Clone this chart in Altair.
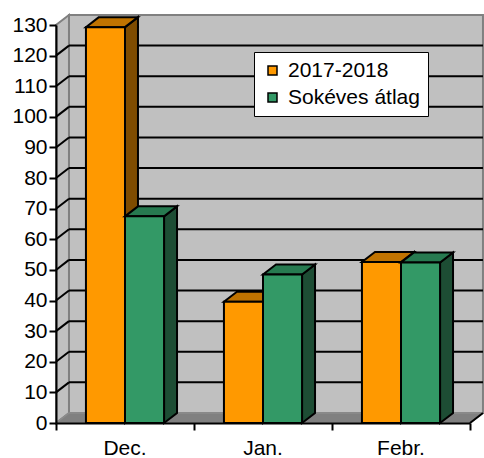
import altair as alt
import pandas as pd

# Monthly values (mm) per series
categories = ["Dec.", "Jan.", "Febr."]
season = [129.3, 39.6, 52.6]      # 2017-2018
longterm = [67.5, 48.5, 52.4]     # Sokéves átlag
series_names = ["2017-2018", "Sokéves átlag"]
y_ticks = list(range(0, 131, 10))

front_colors = ["#FF9900", "#339966"]
top_colors = ["#C07300", "#277A50"]
side_colors = ["#7F4C00", "#1D4D34"]

FONT = "Liberation Sans"
FS = 21
DX = 0.094    # depth of the 3D box along x (category units)
DY = 3.27     # depth of the 3D box along y (value units)
BAR_W = 0.283
N = len(categories)
YMAX = 130

xs = alt.Scale(domain=[0, N], nice=False, zero=False)
ys = alt.Scale(domain=[0, YMAX], nice=False, zero=False)
x_axis = alt.Axis(values=list(range(N + 1)), labels=False, title=None, grid=False,
                  tickSize=7, tickWidth=2, tickColor="black", domainColor="black",
                  domainWidth=2, zindex=1)
y_axis = alt.Axis(values=y_ticks, title=None, grid=False, tickSize=7, tickWidth=2,
                  tickColor="black", domainColor="black", domainWidth=2,
                  labelFont=FONT, labelFontSize=FS, labelColor="black",
                  labelPadding=2, zindex=1)


def X(field):
    return alt.X(f"{field}:Q", scale=xs, axis=x_axis, stack=None)


def Y(field):
    return alt.Y(f"{field}:Q", scale=ys, axis=y_axis, stack=None)


# bar geometry
rows, sides, tops = [], [], []
for i, cat in enumerate(categories):
    for k, vals in enumerate([season, longterm]):
        x0 = i + 0.5 - BAR_W + k * BAR_W
        x1 = x0 + BAR_W
        v = vals[i]
        bar = f"{cat}|{k}"
        rows.append(dict(cat=cat, series=series_names[k], k=k, x0=x0, x1=x1, v=v, base=0))
        sides.append(dict(bar=bar, k=k, sx=x1, lo=0, hi=v))
        sides.append(dict(bar=bar, k=k, sx=x1 + DX, lo=DY, hi=v + DY))
        tops.append(dict(bar=bar, k=k, ty=v, tx0=x0, tx1=x1))
        tops.append(dict(bar=bar, k=k, ty=v + DY, tx0=x0 + DX, tx1=x1 + DX))
bars = pd.DataFrame(rows)
side_df = pd.DataFrame(sides)
top_df = pd.DataFrame(tops)

# frame of the 3D box
wall_df = pd.DataFrame(dict(a=[DX], b=[N + DX], c=[DY], d=[YMAX + DY]))
left_df = pd.DataFrame(dict(wx=[0, DX], lo=[0, DY], hi=[YMAX, YMAX + DY]))
floor_df = pd.DataFrame(dict(fy=[0, DY], fx0=[0, DX], fx1=[N, N + DX]))
grid_df = pd.DataFrame(dict(t=[t + DY for t in y_ticks[1:-1]], a=DX, b=N + DX))
diag_df = pd.DataFrame(dict(t=y_ticks[1:-1], t2=[t + DY for t in y_ticks[1:-1]], a=0.0, b=DX))
edge_df = pd.DataFrame(dict(a=[N], b=[N + DX], c=[0], d=[DY]))
cat_df = pd.DataFrame(dict(cat=categories, cx=[i + 0.5 for i in range(N)], base=0))

back_wall = alt.Chart(wall_df).mark_rect(fill="#C0C0C0", stroke="#808080", strokeWidth=2).encode(
    x=X("a"), x2="b", y=Y("c"), y2="d")
left_wall = alt.Chart(left_df).mark_area(fill="#C0C0C0", stroke="#808080", strokeWidth=2,
                                         orient="vertical", fillOpacity=1).encode(
    x=X("wx"), y=Y("lo"), y2="hi")
floor = alt.Chart(floor_df).mark_area(fill="#808080", stroke="#8C8C8C", strokeWidth=1.5,
                                      orient="horizontal", fillOpacity=1).encode(
    y=Y("fy"), x=X("fx0"), x2="fx1")
grid = alt.Chart(grid_df).mark_rule(color="black", strokeWidth=2).encode(
    y=Y("t"), x=X("a"), x2="b")
diag = alt.Chart(diag_df).mark_rule(color="black", strokeWidth=2).encode(
    x=X("a"), x2="b", y=Y("t"), y2="t2")
edge = alt.Chart(edge_df).mark_rule(color="black", strokeWidth=2).encode(
    x=X("a"), x2="b", y=Y("c"), y2="d")

bar_layers = []
for k in range(2):
    side = alt.Chart(side_df).transform_filter(alt.datum.k == k).mark_area(
        fill=side_colors[k], stroke="black", strokeWidth=2, orient="vertical", fillOpacity=1
    ).encode(x=X("sx"), y=Y("lo"), y2="hi", detail="bar:N")
    top = alt.Chart(top_df).transform_filter(alt.datum.k == k).mark_area(
        fill=top_colors[k], stroke="black", strokeWidth=2, orient="horizontal", fillOpacity=1
    ).encode(y=Y("ty"), x=X("tx0"), x2="tx1", detail="bar:N")
    front = alt.Chart(bars).transform_filter(alt.datum.k == k).mark_rect(
        stroke="black", strokeWidth=2
    ).encode(
        x=X("x0"), x2="x1", y=Y("base"), y2="v",
        fill=alt.Fill("series:N", scale=alt.Scale(domain=series_names, range=front_colors),
                      legend=alt.Legend(title=None, orient="none", legendX=198, legendY=27,
                                        fillColor="white", strokeColor="black", padding=8,
                                        symbolType="square", symbolSize=81,
                                        symbolStrokeColor="black", symbolStrokeWidth=1.5,
                                        labelFont=FONT, labelFontSize=FS, labelColor="black",
                                        rowPadding=5, labelOffset=5)),
    )
    bar_layers += [side, top, front]

labels = alt.Chart(cat_df).mark_text(font=FONT, fontSize=FS, color="black",
                                     baseline="alphabetic", dy=32).encode(
    x=X("cx"), y=Y("base"), text="cat:N")

chart = alt.layer(back_wall, left_wall, floor, grid, diag, edge, *bar_layers, labels).properties(
    width=414, height=398,
    autosize=alt.AutoSizeParams(type="none"),
    padding={"left": 56, "top": 25, "right": 14, "bottom": 35},
    background="white",
).configure_view(stroke=None)

chart.save("out.html", embed_options={"renderer": "svg", "actions": False})
